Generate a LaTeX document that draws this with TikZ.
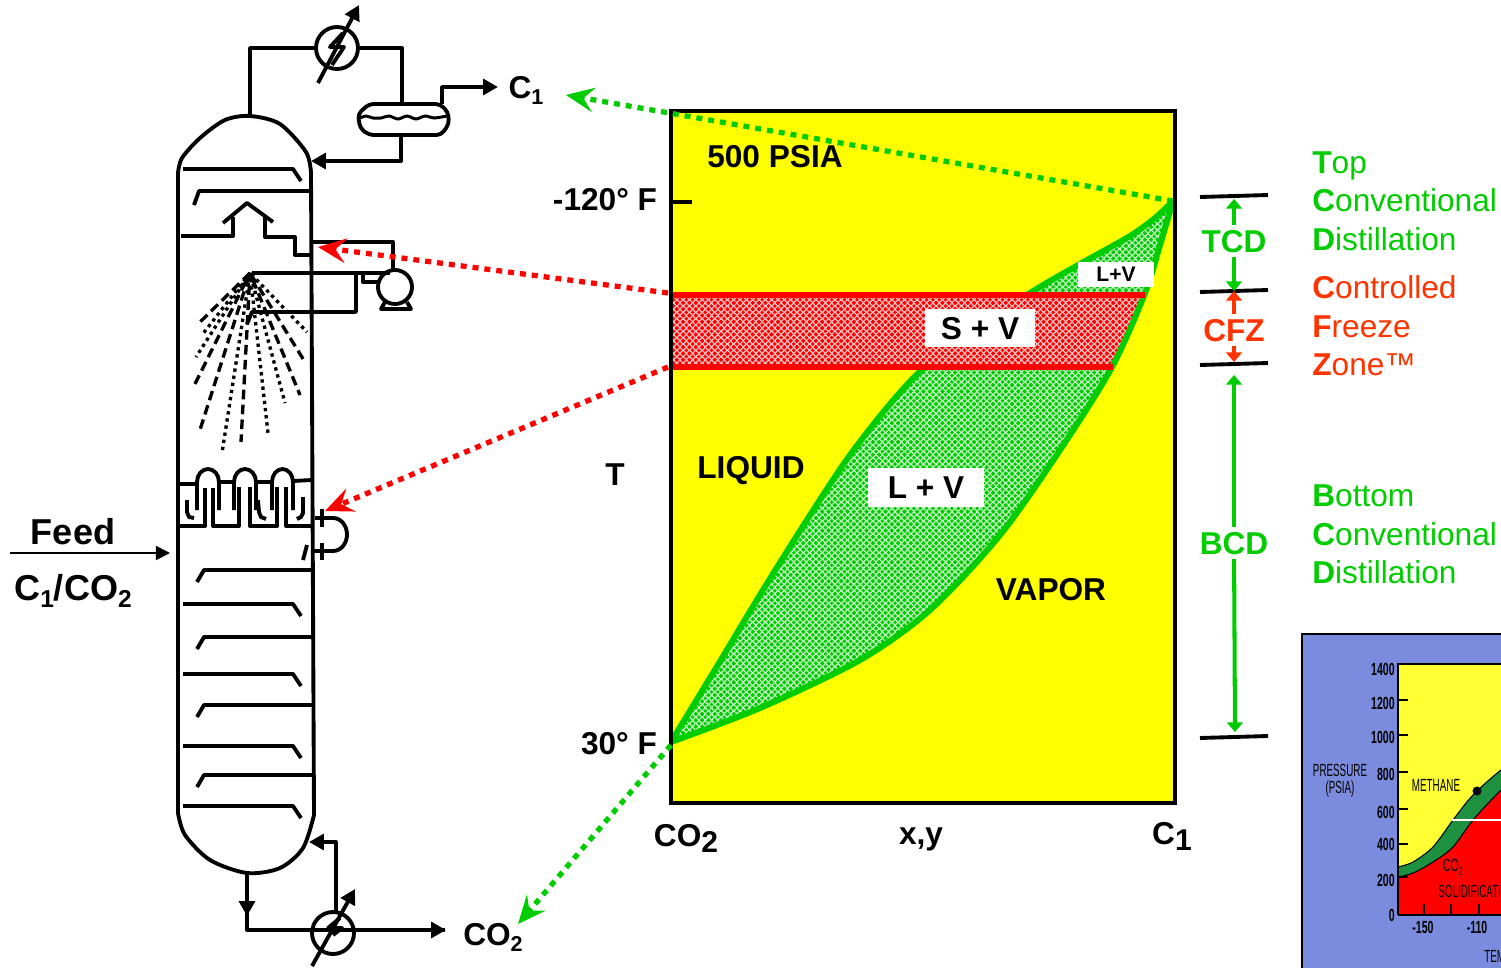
\documentclass[tikz,border=0pt]{standalone}
\usepackage{fontspec}
\setmainfont{Liberation Sans}
\usepackage{xcolor}
\usetikzlibrary{arrows.meta,patterns}
\definecolor{zonegreen}{RGB}{0,204,0}
\definecolor{zonered}{RGB}{255,51,0}
\definecolor{boxyellow}{RGB}{255,255,0}
\definecolor{bandred}{RGB}{255,0,0}
\definecolor{insetblue}{RGB}{123,140,222}
\definecolor{insetgreen}{RGB}{30,145,65}
\definecolor{insetyellow}{RGB}{255,255,51}
\pgfdeclarepatternformonly{mesh}{\pgfpoint{-1.2pt}{-1.2pt}}{\pgfpoint{4.8pt}{4.8pt}}{\pgfpoint{3.6pt}{3.6pt}}{%
  \pgfpathcircle{\pgfpoint{0pt}{0pt}}{1.1pt}%
  \pgfpathcircle{\pgfpoint{3.6pt}{0pt}}{1.1pt}%
  \pgfpathcircle{\pgfpoint{0pt}{3.6pt}}{1.1pt}%
  \pgfpathcircle{\pgfpoint{3.6pt}{3.6pt}}{1.1pt}%
  \pgfpathcircle{\pgfpoint{1.8pt}{1.8pt}}{1.1pt}%
  \pgfusepath{fill}}
\tikzset{
  pipe/.style={line width=2.2pt,line join=round},
  flow/.style={pipe,-{Triangle[length=8.5pt,width=9pt]}},
  sprayDash/.style={line width=1.9pt,dash pattern=on 5.5pt off 3pt},
  sprayDot/.style={line width=1.9pt,dash pattern=on 1.9pt off 2.2pt},
  link/.style={line width=3pt,dash pattern=on 3.4pt off 3.4pt,-{Stealth[length=16pt,width=14pt,inset=6pt]}},
  bigtxt/.style={font=\fontsize{18}{20}\selectfont\bfseries,inner sep=2.5pt,text depth=0pt},
  zonetxt/.style={font=\fontsize{18}{20}\selectfont,anchor=base west,inner sep=0pt},
  insettxt/.style={font=\fontsize{10}{11}\selectfont,inner sep=0pt},
  boxtxt/.style={bigtxt,fill=white,inner sep=0pt},
  level/.style={line width=2.2pt},
  span/.style={line width=2.3pt,-{Triangle[length=5.5pt,width=9pt]}}
}
\newcommand{\subtxt}[1]{\raisebox{-.4ex}{\scalebox{.68}{#1}}}
\newcommand{\subbig}[1]{\raisebox{-.4ex}{\scalebox{.95}{#1}}}
\newcommand{\slim}[1]{\scalebox{.6}[1]{#1}}
\newcommand{\slimmer}[1]{\scalebox{.56}[1]{#1}}
\begin{document}
\begin{tikzpicture}[x=0.02cm,y=-0.02cm]
  \useasboundingbox (0,0) rectangle (1501,967);
  \pgfmathsetmacro{\xTrayL}{183}
  \pgfmathsetmacro{\xTrayR}{293}
  \pgfmathsetmacro{\xWall}{313}

  \draw[pipe] (178,173) -- (178,813)
    plot[smooth] coordinates {(178,813) (185,835) (210,860) (247,873) (280,868) (303,848) (314,815)}
    -- (311,173)
    plot[smooth] coordinates {(311,173) (306,152) (280,124) (250,116) (225,120) (200,138) (182,158) (178,173)};
  \draw[pipe] (183,169) -- (293,169) -- (301,181);
  \draw[pipe] (311,191) -- (199,191) -- (194,205);
  \foreach \y in {604,674,746,806}
    \draw[pipe] (\xTrayL,\y) -- (\xTrayR,\y) -- (\xTrayR+8,\y+12);
  \foreach \y in {570,637,705,775}
    \draw[pipe] (\xWall,\y) -- (204,\y) -- (197,\y+12);
  \draw[pipe] (181,236) -- (233,236) -- (233,217);
  \draw[pipe] (223,223) -- (247,203) -- (273,222);
  \draw[pipe] (265,217) -- (265,237) -- (295,237) -- (295,255) -- (311,255);

  \draw[pipe] (250,116) -- (250,48) -- (316,48);
  \draw[pipe] (358,48) -- (402,48) -- (402,104);
  \draw[pipe] (337,48) circle (21);
  \draw[flow] (318,83) -- (359,5);
  \draw[pipe] (343,33) -- (330,47) -- (344,47) -- (332,65);
  \draw[pipe,rounded corners=2.5pt] (369,104) -- (440,104) -- (448,112) -- (449,124) -- (441,135)
    -- (369,135) -- (360,128) -- (358,114) -- cycle;
  \draw[line width=1.7pt] plot[smooth] coordinates {(360,118) (366,116) (373,118) (381,118) (389,116) (398,119) (407,116) (416,119) (425,116) (434,118) (447,116)};
  \draw[flow] (442,104) -- (442,87) -- (498,87);
  \draw[flow] (401,135) -- (401,161) -- (311,161);

  \draw[pipe] (312,242) -- (393,242) -- (393,270);
  \draw[pipe] (395,287) circle (17);
  \draw[pipe] (385,302) -- (381,309) -- (411,309) -- (407,302);
  \draw[pipe] (252,273) -- (390,273);
  \draw[pipe] (380,282) -- (363,282) -- (363,272);
  \draw[pipe] (356,274) -- (356,312) -- (252,312) -- (247,324);

  \foreach \xe/\ye/\ph in {197/325/0,193/388/3,199/433/6,241/442/1.5,300/395/4.5,305/362/7.5}
    \draw[sprayDash,dash phase=\ph pt] (250,273) -- (\xe,\ye);
  \foreach \xe/\ye/\ph in {202/335/0,196/357/1.2,222/453/2.4,268/433/.6,285/403/1.8,307/332/3}
    \draw[sprayDot,dash phase=\ph pt] (250,273) -- (\xe,\ye);

  \draw[pipe] (176,526) -- (205,526) -- (205,488);
  \draw[pipe] (213,488) -- (213,526) -- (239,526) -- (239,487);
  \draw[pipe] (250,487) -- (250,526) -- (277,526) -- (277,487);
  \draw[pipe] (286,487) -- (286,526) -- (312,526);
  \draw[pipe] (178,484) -- (197,484);
  \foreach \xa/\xb in {197/219,234/256,272/293}
    \draw[pipe] (\xa,510) -- (\xa,482) arc[start angle=180,end angle=0,x radius={(\xb-\xa)/2},y radius=-13] -- (\xb,510);
  \draw[pipe] (219,482) -- (234,482);
  \draw[pipe] (256,482) -- (272,482);
  \draw[pipe] (293,481) -- (312,480);
  \draw[pipe] (187,500) -- (187,512) -- (189,517) -- (194,518);
  \draw[pipe] (258,500) -- (259,512) -- (261,517) -- (266,519);
  \draw[pipe] (303,497) -- (303,513) -- (301,517) -- (297,519);
  \draw[pipe] (315,518) -- (333,518) arc[start angle=90,end angle=-90,x radius=14,y radius=-16.5] -- (313,551);
  \draw[pipe] (322,509) -- (322,527);
  \draw[pipe] (322,543) -- (322,560);
  \draw[pipe] (307,545) -- (303,560);

  \draw[pipe] (247,874) -- (247,930) -- (445,930);
  \draw[flow] (247,880) -- (247,916);
  \draw[flow] (247,930) -- (446,930);
  \draw[pipe] (333,933) circle (21);
  \draw[flow] (312,966) -- (355,889);
  \draw[pipe] (340,918) -- (328,928) -- (342,928) -- (333,935);
  \draw[flow] (336,912) -- (336,842) -- (309,842);

  \coordinate (feedIn) at (10,553);
  \coordinate (feedOut) at (170,553);
  \draw[line width=1pt,-{Triangle[length=8pt,width=8pt]}] (feedIn) -- (feedOut);
  \node[bigtxt,font=\fontsize{20.5}{23}\selectfont\bfseries] (feedTxt) at (73,531) {Feed};
  \node[bigtxt,font=\fontsize{20.5}{23}\selectfont\bfseries] (feedComp) at (73,587) {C\subtxt{1}/CO\subtxt{2}};
  \node[bigtxt] (topProd) at (526,87) {C\subtxt{1}};
  \node[bigtxt] (botProd) at (493,934) {CO\subtxt{2}};

  \draw[line width=2.2pt,fill=boxyellow] (671,111) rectangle (1175,803);
  \def\upperPts{(671,742) (716,668) (763,590) (812,512) (850,455) (890,404) (925,367) (975,331) (1030,293) (1080,264) (1130,236) (1155,218) (1173,201)}
  \def\lowerPts{(1173,201) (1160,245) (1145,293) (1112,367) (1060,450) (1000,535) (930,610) (860,660) (760,708) (671,742)}
  \fill[zonegreen!25!white] plot[smooth] coordinates {\upperPts} -- plot[smooth] coordinates {\lowerPts} -- cycle;
  \fill[pattern=mesh,pattern color=zonegreen] plot[smooth] coordinates {\upperPts} -- plot[smooth] coordinates {\lowerPts} -- cycle;
  \draw[line width=3.4pt,zonegreen,line join=round] plot[smooth] coordinates {\upperPts};
  \fill[bandred!25!white] (672,295) -- (1145,295) -- (1130,333) -- (1112,367) -- (672,367) -- cycle;
  \fill[pattern=mesh,pattern color=bandred] (672,295) -- (1145,295) -- (1130,333) -- (1112,367) -- (672,367) -- cycle;
  \draw[line width=3.4pt,zonegreen,line join=round] plot[smooth] coordinates {\lowerPts};
  \draw[line width=3.4pt,bandred] (672,295) -- (1145,295);
  \draw[line width=3.4pt,bandred] (672,367) -- (1113,367);
  \draw[line width=2.2pt,black] (671,111) rectangle (1175,803);
  \draw[level] (671,202) -- (692,202);

  \node[boxtxt,minimum width=2.2cm,minimum height=.76cm] (solidVap) at (980,328) {S + V};
  \node[boxtxt,minimum width=2.32cm,minimum height=.78cm] (liqVap) at (926,487.5) {L + V};
  \node[boxtxt,minimum width=1.52cm,minimum height=.5cm,font=\fontsize{12}{14}\selectfont\bfseries] (liqVapTop) at (1116,274) {L+V};
  \node[bigtxt] (psiaTxt) at (775,156) {500 PSIA};
  \node[bigtxt] (tempHigh) at (605,199) {-120° F};
  \node[bigtxt] (axisT) at (615,475) {T};
  \node[bigtxt] (liquidTxt) at (751,467) {LIQUID};
  \node[bigtxt] (vaporTxt) at (1051,589) {VAPOR};
  \node[bigtxt] (tempLow) at (619,743) {30° F};
  \node[bigtxt] (axisA) at (686,835) {CO\subbig{2}};
  \node[bigtxt] (axisB) at (921,836) {x,y};
  \node[bigtxt] (axisC) at (1172,833) {C\subbig{1}};

  \coordinate (peak) at (1173,201);
  \coordinate (base) at (671,745);
  \coordinate (redA) at (668,293);
  \coordinate (redB) at (668,367);
  \coordinate (topEnd) at (566,95);
  \coordinate (botEnd) at (518,924);
  \coordinate (refluxEnd) at (318,247);
  \coordinate (trayEnd) at (325,511);
  \draw[link,zonegreen] (peak) -- (topEnd);
  \draw[link,zonegreen] (base) -- (botEnd);
  \draw[link,bandred] (redA) -- (refluxEnd);
  \draw[link,bandred] (redB) -- (trayEnd);

  \coordinate (tickA) at (1234,199);
  \coordinate (tickB) at (1234,291);
  \coordinate (tickC) at (1234,362);
  \coordinate (tickD) at (1235,732);
  \coordinate (tickE) at (1234,375);
  \draw[level] (1200,197) -- (1268,195);
  \draw[level] (1200,292) -- (1268,290);
  \draw[level] (1200,365) -- (1268,363);
  \draw[level] (1200,738) -- (1268,736);
  \node[bigtxt,zonegreen] (tcdTxt) at (1234,241) {TCD};
  \node[bigtxt,zonered] (cfzTxt) at (1234,330) {CFZ};
  \node[bigtxt,zonegreen] (bcdTxt) at (1234,543) {BCD};
  \draw[span,zonegreen] (tcdTxt) -- (tickA);
  \draw[span,zonegreen] (tcdTxt) -- (tickB);
  \draw[span,zonered] (cfzTxt) -- (tickB);
  \draw[span,zonered] (cfzTxt) -- (tickC);
  \draw[span,zonegreen] (bcdTxt) -- (tickE);
  \draw[span,zonegreen] (bcdTxt) -- (tickD);

  \node[zonetxt,zonegreen] (topA) at (1312,173) {\textbf{T}op};
  \node[zonetxt,zonegreen] (topB) at (1312,211) {\textbf{C}onventional};
  \node[zonetxt,zonegreen] (topC) at (1312,250) {\textbf{D}istillation};
  \node[zonetxt,zonered] (midA) at (1312,298) {\textbf{C}ontrolled};
  \node[zonetxt,zonered] (midB) at (1312,337) {\textbf{F}reeze};
  \node[zonetxt,zonered] (midC) at (1312,375) {\textbf{Z}one™};
  \node[zonetxt,zonegreen] (botA) at (1312,506) {\textbf{B}ottom};
  \node[zonetxt,zonegreen] (botB) at (1312,545) {\textbf{C}onventional};
  \node[zonetxt,zonegreen] (botC) at (1312,583) {\textbf{D}istillation};

  \begin{scope}
    \clip (0,0) rectangle (1501,967);
    \draw[line width=1.3pt,fill=insetblue] (1302,634) rectangle (1540,1000);
    \fill[insetyellow] (1398,664) rectangle (1540,915);
    \fill[bandred] (1398,915) -- (1398,876) -- plot[smooth] coordinates {(1398,877) (1413,873) (1433,862) (1453,847) (1473,820) (1501,790) (1520,775)} -- (1540,915) -- cycle;
    \fill[insetgreen,draw=black,line width=.6pt] plot[smooth] coordinates {(1398,867) (1413,862) (1433,847) (1453,820) (1473,795) (1501,770) (1520,760)} -- plot[smooth] coordinates {(1520,775) (1501,790) (1473,820) (1453,847) (1433,862) (1413,873) (1398,877)} -- cycle;
    \draw[line width=.7pt] (1398,915) -- (1398,664) -- (1540,664);
    \draw[line width=.7pt] (1398,915) -- (1540,915);
    \foreach \y/\ly/\lbl in {664/669/1400,700/703/1200,735/737/1000,772/774/800,809/812/600,844/844/400,877/880/200,915/915/0} {
      \draw[line width=.8pt] (1398,\y) -- (1408,\y);
      \node[insettxt,font=\fontsize{10}{11}\selectfont\bfseries,anchor=east] (press\lbl) at (1395,\ly) {\slim{\lbl}};
    }
    \foreach \x in {1424,1451,1479}
      \draw[line width=.8pt] (\x,915) -- (\x,904);
    \draw[line width=1.5pt,white] (1452,820) -- (1510,820);
    \fill (1477,791) circle (4.5);
    \node[insettxt] (pressTxt) at (1340,770) {\slimmer{PRESSURE}};
    \node[insettxt] (psiaUnit) at (1340,789) {\slimmer{(PSIA)}};
    \node[insettxt] (methaneTxt) at (1436,785) {\slimmer{METHANE}};
    \node[insettxt] (coTxt) at (1453,867) {\slim{CO\subtxt{2}}};
    \node[insettxt,anchor=west] (solidTxt) at (1438,891) {\slimmer{SOLIDIFICATION}};
    \node[insettxt,font=\fontsize{10}{11}\selectfont\bfseries] (tempA) at (1423,927) {\slim{-150}};
    \node[insettxt,font=\fontsize{10}{11}\selectfont\bfseries] (tempB) at (1477,927) {\slim{-110}};
    \node[insettxt,anchor=west] (tempTxt) at (1484,957) {\slimmer{TEMPERATURE}};
  \end{scope}
\end{tikzpicture}
\end{document}
